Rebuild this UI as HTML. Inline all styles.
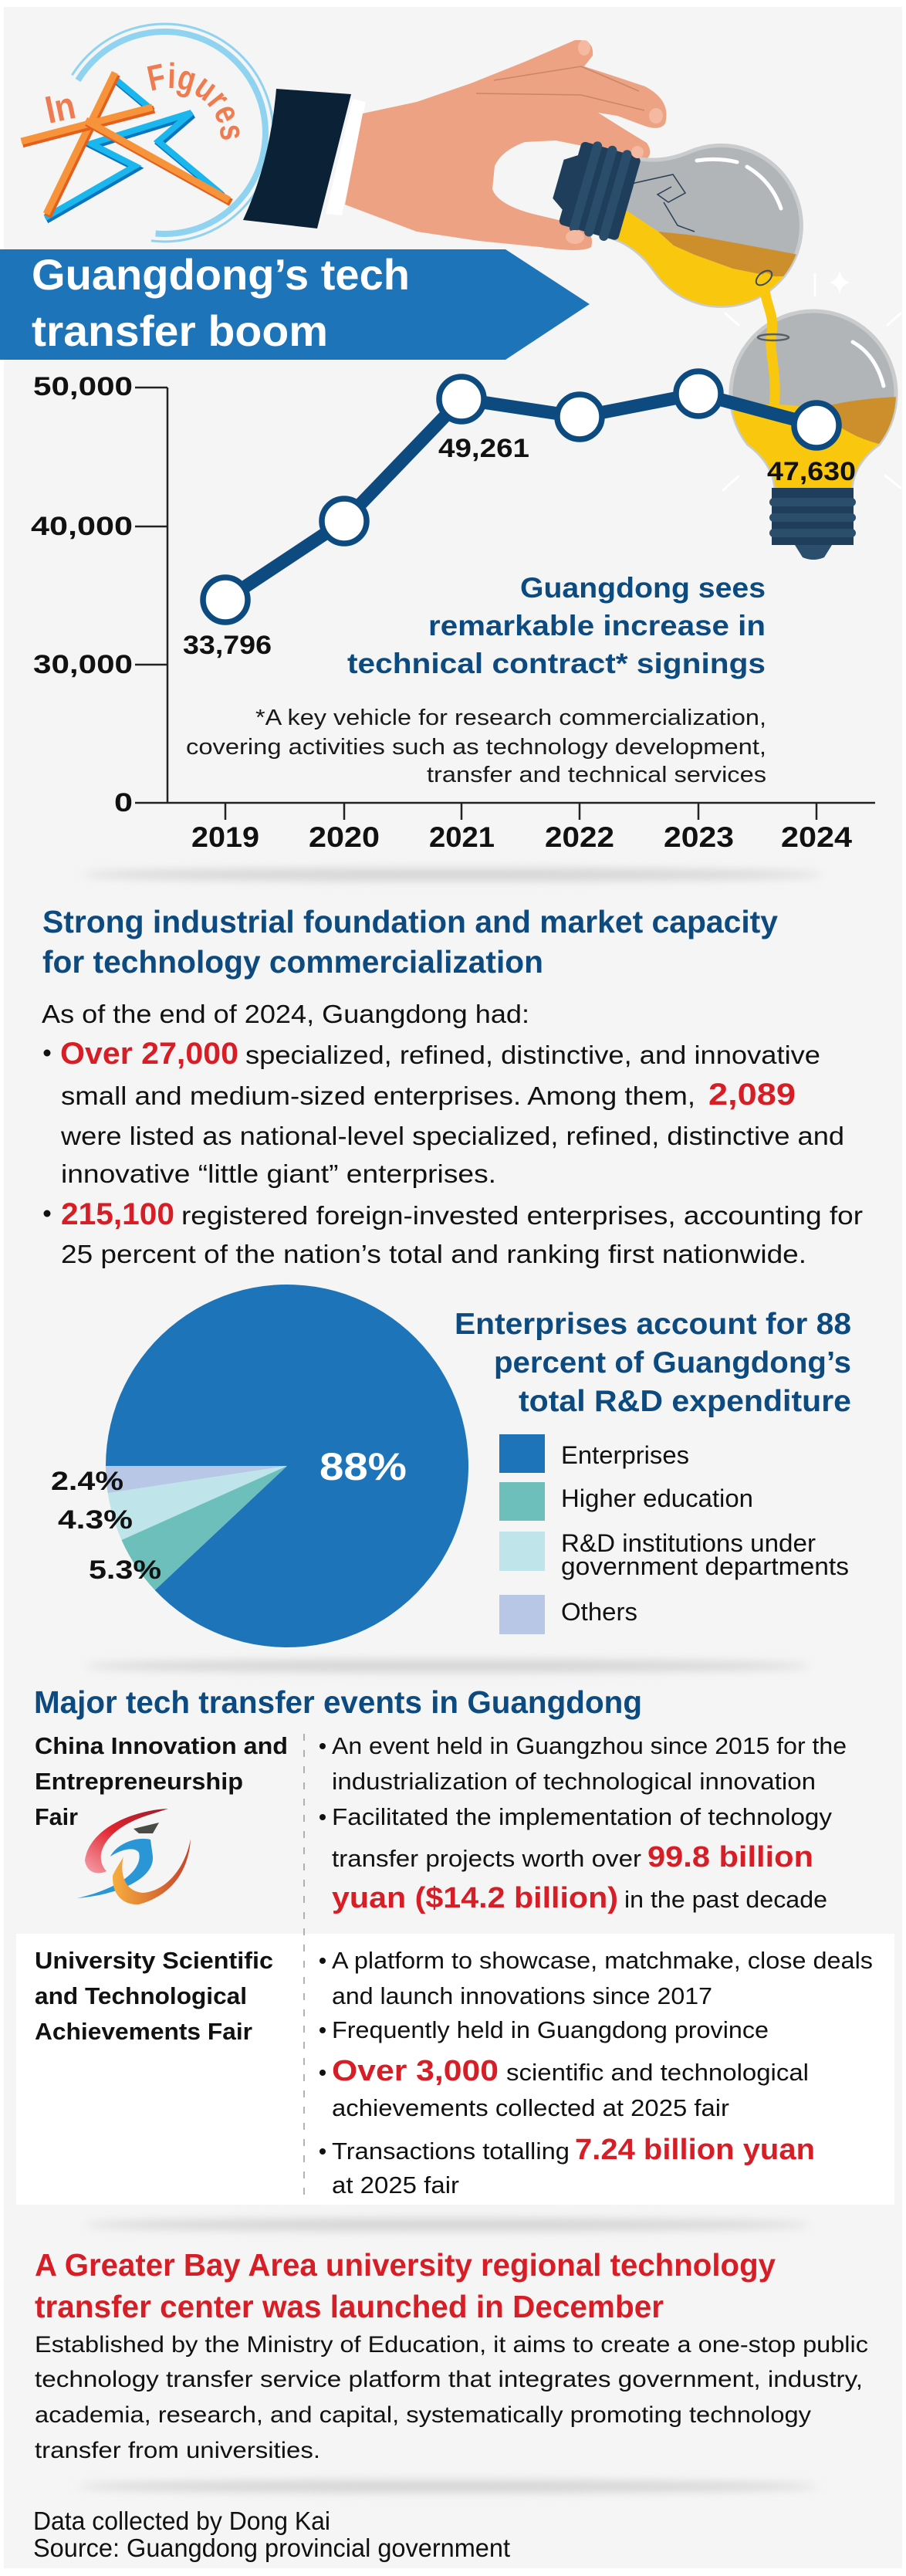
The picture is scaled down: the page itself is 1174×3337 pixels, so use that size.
<!DOCTYPE html>
<html><head><meta charset="utf-8"><title>Guangdong's tech transfer boom</title>
<style>html,body{margin:0;padding:0;background:#fff}svg{display:block}</style></head>
<body>
<svg xmlns="http://www.w3.org/2000/svg" width="1174" height="3337" viewBox="0 0 1174 3337" font-family="'Liberation Sans', Arial, sans-serif">
<defs>
<filter id="sh" x="-10%" y="-300%" width="120%" height="700%"><feGaussianBlur stdDeviation="6"/></filter>
<clipPath id="c1"><path transform="translate(933,292) rotate(106)" d="M -80,65 A 104 104 0 1 1 80,65 Q 56,95 54,128 L -54,128 Q -56,95 -80,65 Z"/></clipPath>
<clipPath id="c2"><path d="M 969,575 A 107 107 0 1 1 1139,575 Q 1105,600 1103,634 L 1005,634 Q 1003,600 969,575 Z"/></clipPath>
<linearGradient id="gr" x1="0" y1="1" x2="1" y2="0"><stop offset="0" stop-color="#f4a3ad"/><stop offset="0.5" stop-color="#e2232e"/><stop offset="1" stop-color="#9a1d2c"/></linearGradient>
<linearGradient id="go" x1="0" y1="0" x2="1" y2="0"><stop offset="0" stop-color="#f7ae3e"/><stop offset="1" stop-color="#c4422a"/></linearGradient>
<path id="fp" d="M195.3,118.8 A66,66 0 0 1 277.2,213" fill="none"/>
</defs>

<!-- panel background -->
<rect x="5" y="9" width="1164" height="3318" fill="#f5f5f5"/>

<!-- logo arcs -->
<path d="M93.4,97.3 A141,141 0 1 1 195.8,311.9" fill="none" stroke="#8fd3f1" stroke-width="3"/>
<path d="M101,104 A131,131 0 1 1 201.6,302.5" fill="none" stroke="#8fd3f1" stroke-width="8"/>
<!-- star bars -->
<g fill="none" stroke-linejoin="miter" stroke-linecap="square">
<polyline points="64,283 177,218 120,189 250,149 207,186 285,251" stroke="#0c73bf" stroke-width="9"/>
<line x1="152" y1="106" x2="194" y2="141" stroke="#0c73bf" stroke-width="9"/>
<polyline points="62,280 175,215 118,186 248,146 205,183 283,248" stroke="#1ab6ee" stroke-width="8"/>
<line x1="150" y1="103" x2="192" y2="138" stroke="#1ab6ee" stroke-width="8"/>
<line x1="64" y1="276" x2="149" y2="101" stroke="#e2601c" stroke-width="10"/>
<line x1="62" y1="273" x2="147" y2="98" stroke="#f7943b" stroke-width="9"/>
<line x1="34" y1="185" x2="195" y2="143" stroke="#e2601c" stroke-width="10"/>
<line x1="32" y1="182" x2="193" y2="140" stroke="#f7943b" stroke-width="9"/>
<line x1="117" y1="161" x2="295" y2="260" stroke="#e2601c" stroke-width="10"/>
<line x1="115" y1="158" x2="293" y2="257" stroke="#f7943b" stroke-width="9"/>
</g>
<text x="63" y="160" font-size="50" font-weight="bold" fill="#ee7c50" transform="rotate(-12 63 160)" textLength="38" lengthAdjust="spacingAndGlyphs">In</text>
<text font-size="46" font-weight="bold" fill="#ee7c50"><textPath href="#fp" textLength="132" lengthAdjust="spacingAndGlyphs">Figures</textPath></text>

<!-- sleeve & hand -->
<path d="M358,115 L455,122 L411,296 L315,285 Q350,210 358,115 Z" fill="#0b2236"/>
<polygon points="457,128 474,132 443,279 422,277" fill="#ffffff"/>
<path d="M470,147 L540,132 L610,108 L680,80 L745,52 Q770,50 768,72 L757,86 L800,100 L836,112 Q870,130 862,160 Q855,170 835,163 L800,150 L775,146 L810,168 L838,185 Q848,200 835,208 L800,200 L760,190 L720,182 L680,184 Q650,195 641,215 L638,245 Q645,265 690,277 L745,290 Q772,300 766,320 Q755,328 700,320 L620,312 L540,300 L447,265 Z" fill="#eca283"/>
<path d="M640,104 L753,86 L828,118 M617,121 L753,123 L835,143" fill="none" stroke="#c9856a" stroke-width="1.5"/>
<ellipse cx="757" cy="62" rx="8" ry="10" fill="#f4b9a0"/>
<ellipse cx="850" cy="150" rx="9" ry="10" fill="#f4b9a0"/>

<!-- bulb 1 -->
<g transform="translate(933,292) rotate(106)">
<path d="M -80,65 A 104 104 0 1 1 80,65 Q 56,95 54,128 L -54,128 Q -56,95 -80,65 Z" fill="#b2b5b8" stroke="#c9cbcd" stroke-width="5"/>
</g>
<g clip-path="url(#c1)">
<path d="M790,258 L853,300 L873,318 L900,330 L950,348 L1000,358 L1045,358 L1045,430 L770,430 Z" fill="#f9c80e"/>
<path d="M853,300 L900,305 L960,316 L1035,330 L1035,358 L1000,358 L950,348 L900,330 L873,318 Z" fill="#cc8f2c"/>
</g>
<path d="M903,208 Q930,204 955,210 M968,216 Q1000,235 1012,270" fill="none" stroke="#fff" stroke-width="5" stroke-linecap="round"/>
<path d="M818,238 L872,226 L888,250 L866,262 L852,252 L870,242 M860,262 L878,292 L900,300" fill="none" stroke="#2a3f55" stroke-width="1.5"/>
<g transform="translate(933,292) rotate(106)">
<rect x="-56" y="122" width="112" height="80" rx="6" fill="#1e3e5b"/>
<rect x="-61" y="135" width="122" height="12" rx="6" fill="#2a4d6c"/>
<rect x="-61" y="155" width="122" height="12" rx="6" fill="#2a4d6c"/>
<rect x="-61" y="175" width="122" height="12" rx="6" fill="#2a4d6c"/>
<path d="M -38,200 L 38,200 L 26,218 L -26,218 Z" fill="#1e3e5b"/>
</g>
<ellipse cx="745" cy="307" rx="12" ry="9" fill="#f4b9a0"/>
<ellipse cx="826" cy="197" rx="8" ry="8" fill="#f4b9a0"/>

<!-- sparkles -->
<g stroke="#fff" stroke-width="3" stroke-linecap="round" fill="none">
<line x1="1056" y1="355" x2="1056" y2="383"/>
<line x1="940" y1="406" x2="957" y2="421"/>
<line x1="1167" y1="406" x2="1150" y2="421"/>
<line x1="937" y1="635" x2="957" y2="617"/>
<line x1="1147" y1="616" x2="1167" y2="632"/>
</g>
<path d="M1088,350 Q1090,362 1101,366 Q1090,369 1088,381 Q1086,369 1075,366 Q1086,362 1088,350 Z" fill="#fff"/>

<!-- bulb 2 -->
<path d="M 969,575 A 107 107 0 1 1 1139,575 Q 1105,600 1103,634 L 1005,634 Q 1003,600 969,575 Z" fill="#b2b5b8" stroke="#c9cbcd" stroke-width="5"/>
<g clip-path="url(#c2)">
<path d="M940,530 Q1000,518 1060,530 Q1110,540 1170,520 L1170,640 L940,640 Z" fill="#f9c80e"/>
<path d="M1075,525 Q1120,515 1170,514 L1170,580 Q1140,578 1110,565 Q1090,555 1075,545 Z" fill="#cc8f2c"/>
</g>
<path d="M1105,443 Q1135,460 1145,500" fill="none" stroke="#fff" stroke-width="5" stroke-linecap="round"/>
<rect x="1000" y="632" width="106" height="74" fill="#1e3e5b"/>
<rect x="997" y="645" width="112" height="11" rx="5.5" fill="#2b4e6d"/>
<rect x="997" y="665" width="112" height="11" rx="5.5" fill="#2b4e6d"/>
<rect x="997" y="685" width="112" height="11" rx="5.5" fill="#2b4e6d"/>
<path d="M1030,706 L1078,706 L1068,722 Q1054,728 1040,722 Z" fill="#2b4e6d"/>
<!-- stream -->
<path d="M993,360 C985,385 1005,405 1000,430 C995,455 1008,480 1003,530" fill="none" stroke="#f9c80e" stroke-width="13" stroke-linecap="round"/>
<ellipse cx="990" cy="360" rx="12" ry="7" transform="rotate(-40 990 360)" fill="none" stroke="#3a4a5a" stroke-width="2"/>
<ellipse cx="1002" cy="437" rx="20" ry="4" fill="none" stroke="#5a5f66" stroke-width="2.5"/>

<!-- title banner -->
<polygon points="0,323 655,323 764,394 655,466 0,466" fill="#1e74b9"/>
<text x="41" y="375" font-size="56" font-weight="bold" fill="#fff" textLength="490" lengthAdjust="spacingAndGlyphs">Guangdong’s tech</text>
<text x="41" y="448" font-size="56" font-weight="bold" fill="#fff" textLength="384" lengthAdjust="spacingAndGlyphs">transfer boom</text>

<!-- chart axes -->
<g stroke="#222" stroke-width="2.5" fill="none">
<line x1="217" y1="502" x2="217" y2="1040"/>
<line x1="175" y1="1040" x2="1134" y2="1040"/>
<line x1="175" y1="502" x2="217" y2="502"/>
<line x1="175" y1="682" x2="217" y2="682"/>
<line x1="175" y1="861" x2="217" y2="861"/>
<line x1="292" y1="1040" x2="292" y2="1062"/>
<line x1="446" y1="1040" x2="446" y2="1062"/>
<line x1="598" y1="1040" x2="598" y2="1062"/>
<line x1="751" y1="1040" x2="751" y2="1062"/>
<line x1="905" y1="1040" x2="905" y2="1062"/>
<line x1="1058" y1="1040" x2="1058" y2="1062"/>
</g>
<g font-size="34" font-weight="bold" fill="#111">
<text x="43" y="512" textLength="129" lengthAdjust="spacingAndGlyphs">50,000</text>
<text x="40" y="693" textLength="132" lengthAdjust="spacingAndGlyphs">40,000</text>
<text x="43" y="872" textLength="129" lengthAdjust="spacingAndGlyphs">30,000</text>
<text x="148" y="1051" textLength="24" lengthAdjust="spacingAndGlyphs">0</text>
</g>
<g font-size="37" font-weight="bold" fill="#111">
<text x="248" y="1097" textLength="88" lengthAdjust="spacingAndGlyphs">2019</text>
<text x="400" y="1097" textLength="92" lengthAdjust="spacingAndGlyphs">2020</text>
<text x="556" y="1097" textLength="85" lengthAdjust="spacingAndGlyphs">2021</text>
<text x="706" y="1097" textLength="90" lengthAdjust="spacingAndGlyphs">2022</text>
<text x="860" y="1097" textLength="91" lengthAdjust="spacingAndGlyphs">2023</text>
<text x="1012" y="1097" textLength="92" lengthAdjust="spacingAndGlyphs">2024</text>
</g>
<polyline points="292,777 446,675 598,517 751,540 905,510 1058,551" fill="none" stroke="#0c4a80" stroke-width="17" stroke-linejoin="round"/>
<g fill="#fff" stroke="#0c4a80" stroke-width="7.5">
<circle cx="292" cy="777" r="29"/>
<circle cx="446" cy="675" r="29"/>
<circle cx="598" cy="517" r="29"/>
<circle cx="751" cy="540" r="29"/>
<circle cx="905" cy="510" r="29"/>
<circle cx="1058" cy="551" r="29"/>
</g>
<g font-size="34" font-weight="bold" fill="#111">
<text x="237" y="847" textLength="115" lengthAdjust="spacingAndGlyphs">33,796</text>
<text x="568" y="592" textLength="118" lengthAdjust="spacingAndGlyphs">49,261</text>
<text x="994" y="622" textLength="115" lengthAdjust="spacingAndGlyphs">47,630</text>
</g>
<g font-size="37" font-weight="bold" fill="#0c4a7f">
<text x="674" y="774" textLength="318" lengthAdjust="spacingAndGlyphs">Guangdong sees</text>
<text x="555" y="823" textLength="437" lengthAdjust="spacingAndGlyphs">remarkable increase in</text>
<text x="450" y="872" textLength="542" lengthAdjust="spacingAndGlyphs">technical contract* signings</text>
</g>
<g font-size="29" fill="#1a1a1a">
<text x="331" y="939" textLength="662" lengthAdjust="spacingAndGlyphs">*A key vehicle for research commercialization,</text>
<text x="241" y="977" textLength="752" lengthAdjust="spacingAndGlyphs">covering activities such as technology development,</text>
<text x="553" y="1013" textLength="440" lengthAdjust="spacingAndGlyphs">transfer and technical services</text>
</g>

<!-- shadows -->
<ellipse cx="587" cy="1133" rx="480" ry="8" fill="#d4d4d4" filter="url(#sh)"/>
<ellipse cx="580" cy="2158" rx="470" ry="8" fill="#d4d4d4" filter="url(#sh)"/>
<ellipse cx="580" cy="2882" rx="470" ry="8" fill="#d4d4d4" filter="url(#sh)"/>
<ellipse cx="580" cy="3221" rx="480" ry="8" fill="#d4d4d4" filter="url(#sh)"/>

<!-- section 2 -->
<g font-size="41" font-weight="bold" fill="#0c4a7f">
<text x="55" y="1208" textLength="953" lengthAdjust="spacingAndGlyphs">Strong industrial foundation and market capacity</text>
<text x="55" y="1260" textLength="649" lengthAdjust="spacingAndGlyphs">for technology commercialization</text>
</g>
<g font-size="33" fill="#111">
<text x="54" y="1325" textLength="632" lengthAdjust="spacingAndGlyphs">As of the end of 2024, Guangdong had:</text>
<text x="318" y="1378" textLength="745" lengthAdjust="spacingAndGlyphs">specialized, refined, distinctive, and innovative</text>
<text x="79" y="1431" textLength="822" lengthAdjust="spacingAndGlyphs">small and medium-sized enterprises. Among them,</text>
<text x="79" y="1483" textLength="1015" lengthAdjust="spacingAndGlyphs">were listed as national-level specialized, refined, distinctive and</text>
<text x="79" y="1532" textLength="564" lengthAdjust="spacingAndGlyphs">innovative “little giant” enterprises.</text>
<text x="235" y="1586" textLength="883" lengthAdjust="spacingAndGlyphs">registered foreign-invested enterprises, accounting for</text>
<text x="79" y="1636" textLength="966" lengthAdjust="spacingAndGlyphs">25 percent of the nation’s total and ranking first nationwide.</text>
</g>
<g font-size="40" font-weight="bold" fill="#d71e26">
<text x="78" y="1378" textLength="231" lengthAdjust="spacingAndGlyphs">Over 27,000</text>
<text x="918" y="1431" textLength="113" lengthAdjust="spacingAndGlyphs">2,089</text>
<text x="79" y="1586" textLength="147" lengthAdjust="spacingAndGlyphs">215,100</text>
</g>
<circle cx="61" cy="1364" r="4.5" fill="#111"/>
<circle cx="61" cy="1572" r="4.5" fill="#111"/>

<!-- pie -->
<path d="M372,1899 L200.7,2059.9 A235,235 0 1 0 137,1899 Z" fill="#1e74b9"/>
<path d="M372,1899 L137,1899 A235,235 0 0 0 139.7,1934.3 Z" fill="#b9c7e7"/>
<path d="M372,1899 L139.7,1934.3 A235,235 0 0 0 157.5,1995 Z" fill="#bfe5ea"/>
<path d="M372,1899 L157.5,1995 A235,235 0 0 0 200.7,2059.9 Z" fill="#6cbfbb"/>
<text x="414" y="1917" font-size="50" font-weight="bold" fill="#fff" textLength="113" lengthAdjust="spacingAndGlyphs">88%</text>
<g font-size="34" font-weight="bold" fill="#111">
<text x="66" y="1930" textLength="94" lengthAdjust="spacingAndGlyphs">2.4%</text>
<text x="75" y="1980" textLength="97" lengthAdjust="spacingAndGlyphs">4.3%</text>
<text x="115" y="2045" textLength="94" lengthAdjust="spacingAndGlyphs">5.3%</text>
</g>
<g font-size="39" font-weight="bold" fill="#0c4a7f">
<text x="589" y="1728" textLength="514" lengthAdjust="spacingAndGlyphs">Enterprises account for 88</text>
<text x="640" y="1778" textLength="463" lengthAdjust="spacingAndGlyphs">percent of Guangdong’s</text>
<text x="672" y="1828" textLength="431" lengthAdjust="spacingAndGlyphs">total R&amp;D expenditure</text>
</g>
<rect x="647" y="1858" width="59" height="50" fill="#1e74b9"/>
<rect x="647" y="1920" width="59" height="50" fill="#6cbfbb"/>
<rect x="647" y="1984" width="59" height="51" fill="#bfe5ea"/>
<rect x="647" y="2066" width="59" height="51" fill="#b9c7e7"/>
<g font-size="32" fill="#111">
<text x="727" y="1896" textLength="166" lengthAdjust="spacingAndGlyphs">Enterprises</text>
<text x="727" y="1952" textLength="249" lengthAdjust="spacingAndGlyphs">Higher education</text>
<text x="727" y="2010" textLength="330" lengthAdjust="spacingAndGlyphs">R&amp;D institutions under</text>
<text x="727" y="2040" textLength="373" lengthAdjust="spacingAndGlyphs">government departments</text>
<text x="727" y="2099" textLength="99" lengthAdjust="spacingAndGlyphs">Others</text>
</g>

<!-- events -->
<text x="44" y="2219" font-size="41" font-weight="bold" fill="#0c4a7f" textLength="788" lengthAdjust="spacingAndGlyphs">Major tech transfer events in Guangdong</text>
<rect x="21" y="2505" width="1138" height="351" fill="#ffffff"/>
<line x1="394" y1="2246" x2="394" y2="2852" stroke="#9a9a9a" stroke-width="1.5" stroke-dasharray="9 12"/>
<g font-size="31" font-weight="bold" fill="#111">
<text x="45" y="2272" textLength="328" lengthAdjust="spacingAndGlyphs">China Innovation and</text>
<text x="45" y="2318" textLength="270" lengthAdjust="spacingAndGlyphs">Entrepreneurship</text>
<text x="45" y="2364" textLength="56" lengthAdjust="spacingAndGlyphs">Fair</text>
<text x="45" y="2550" textLength="309" lengthAdjust="spacingAndGlyphs">University Scientific</text>
<text x="45" y="2596" textLength="275" lengthAdjust="spacingAndGlyphs">and Technological</text>
<text x="45" y="2642" textLength="282" lengthAdjust="spacingAndGlyphs">Achievements Fair</text>
</g>
<!-- CIEF logo -->
<path d="M218,2343 C170,2345 115,2370 110,2410 C112,2425 125,2430 138,2424 C120,2405 135,2370 190,2352 Z" fill="url(#gr)"/>
<polygon points="173,2369 206,2361 198,2375 180,2375" fill="#4b4b45"/>
<path d="M195,2383 C175,2378 150,2390 143,2405 C158,2395 175,2392 180,2400 C185,2420 160,2445 100,2459 C150,2455 200,2435 198,2405 Z" fill="#2b96d6"/>
<path d="M247,2382 C245,2420 225,2455 180,2467 C160,2468 145,2455 146,2430 C150,2420 158,2410 160,2405 C155,2425 160,2450 185,2452 C215,2450 240,2420 247,2382 Z" fill="url(#go)"/>

<g font-size="31" fill="#111">
<text x="430" y="2272" textLength="667" lengthAdjust="spacingAndGlyphs">An event held in Guangzhou since 2015 for the</text>
<text x="430" y="2318" textLength="627" lengthAdjust="spacingAndGlyphs">industrialization of technological innovation</text>
<text x="430" y="2364" textLength="648" lengthAdjust="spacingAndGlyphs">Facilitated the implementation of technology</text>
<text x="430" y="2418" textLength="401" lengthAdjust="spacingAndGlyphs">transfer projects worth over</text>
<text x="809" y="2471" textLength="263" lengthAdjust="spacingAndGlyphs">in the past decade</text>
<text x="430" y="2550" textLength="701" lengthAdjust="spacingAndGlyphs">A platform to showcase, matchmake, close deals</text>
<text x="430" y="2596" textLength="493" lengthAdjust="spacingAndGlyphs">and launch innovations since 2017</text>
<text x="430" y="2640" textLength="566" lengthAdjust="spacingAndGlyphs">Frequently held in Guangdong province</text>
<text x="656" y="2695" textLength="392" lengthAdjust="spacingAndGlyphs">scientific and technological</text>
<text x="430" y="2741" textLength="515" lengthAdjust="spacingAndGlyphs">achievements collected at 2025 fair</text>
<text x="430" y="2797" textLength="308" lengthAdjust="spacingAndGlyphs">Transactions totalling</text>
<text x="430" y="2841" textLength="165" lengthAdjust="spacingAndGlyphs">at 2025 fair</text>
</g>
<g font-size="38" font-weight="bold" fill="#d71e26">
<text x="839" y="2418" textLength="215" lengthAdjust="spacingAndGlyphs">99.8 billion</text>
<text x="430" y="2471" textLength="371" lengthAdjust="spacingAndGlyphs">yuan ($14.2 billion)</text>
<text x="430" y="2695" textLength="216" lengthAdjust="spacingAndGlyphs">Over 3,000</text>
<text x="745" y="2797" textLength="311" lengthAdjust="spacingAndGlyphs">7.24 billion yuan</text>
</g>
<g fill="#111">
<circle cx="418" cy="2262" r="4" />
<circle cx="418" cy="2354" r="4" />
<circle cx="418" cy="2540" r="4" />
<circle cx="418" cy="2630" r="4" />
<circle cx="418" cy="2685" r="4" />
<circle cx="418" cy="2787" r="4" />
</g>

<!-- bottom -->
<g font-size="41" font-weight="bold" fill="#d71e26">
<text x="45" y="2948" textLength="960" lengthAdjust="spacingAndGlyphs">A Greater Bay Area university regional technology</text>
<text x="45" y="3002" textLength="815" lengthAdjust="spacingAndGlyphs">transfer center was launched in December</text>
</g>
<g font-size="30" fill="#111">
<text x="45" y="3047" textLength="1080" lengthAdjust="spacingAndGlyphs">Established by the Ministry of Education, it aims to create a one-stop public</text>
<text x="45" y="3092" textLength="1073" lengthAdjust="spacingAndGlyphs">technology transfer service platform that integrates government, industry,</text>
<text x="45" y="3138" textLength="1006" lengthAdjust="spacingAndGlyphs">academia, research, and capital, systematically promoting technology</text>
<text x="45" y="3184" textLength="370" lengthAdjust="spacingAndGlyphs">transfer from universities.</text>
</g>
<g font-size="33" fill="#111">
<text x="43" y="3277" textLength="385" lengthAdjust="spacingAndGlyphs">Data collected by Dong Kai</text>
<text x="43" y="3312" textLength="618" lengthAdjust="spacingAndGlyphs">Source: Guangdong provincial government</text>
</g>
</svg>
</body></html>
